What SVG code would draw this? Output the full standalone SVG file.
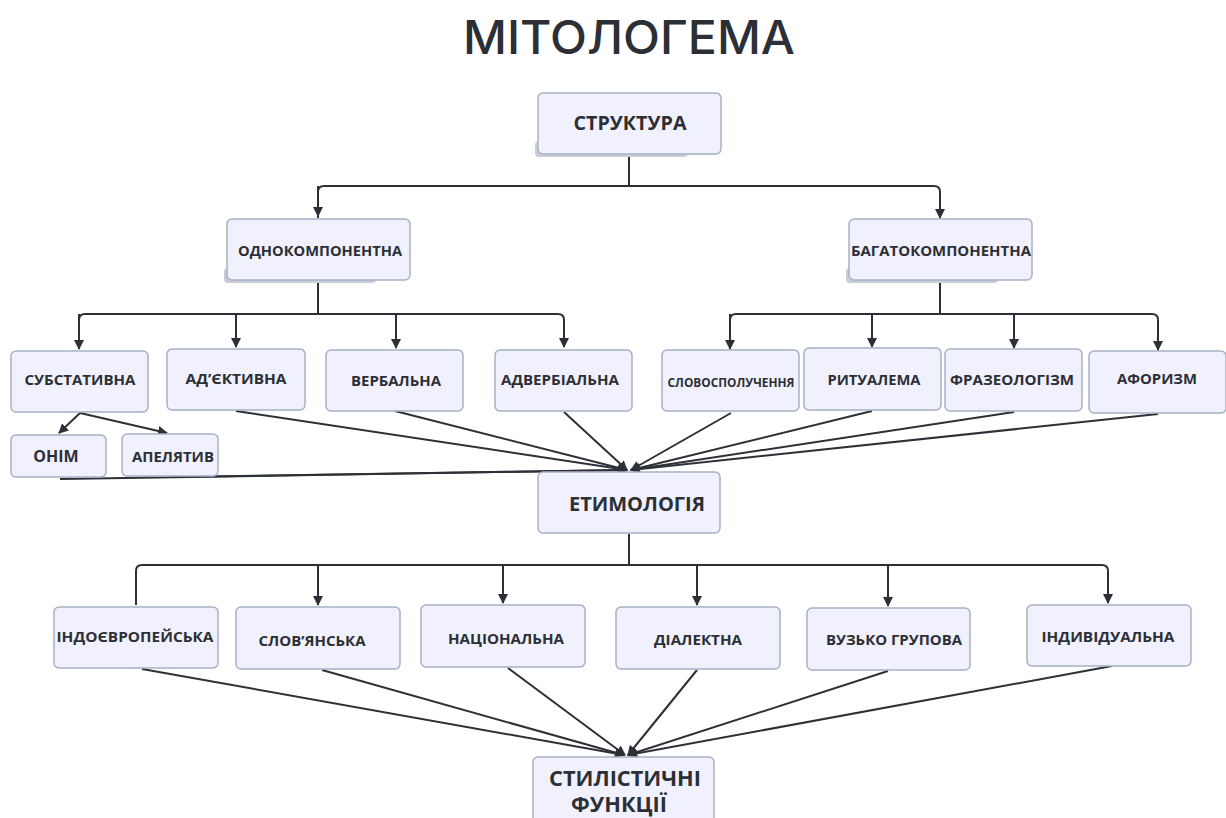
<svg xmlns="http://www.w3.org/2000/svg" width="1226" height="818" viewBox="0 0 1226 818">
<style>
.box{fill:#f1f1fd;stroke:#a7b1c6;stroke-width:1.5}
.sh{fill:#c9cdd9}
.t{font-family:"Open Sans","Noto Sans",sans-serif;font-weight:700;fill:#2c2f35;text-anchor:middle;dominant-baseline:central}
.c{fill:none;stroke:#2d3036;stroke-width:2}
</style>
<defs>
<marker id="ah" viewBox="0 0 10 10" refX="9" refY="5" markerWidth="5" markerHeight="5" orient="auto" markerUnits="strokeWidth">
<path d="M0,0 L10,5 L0,10 z" fill="#2d3036"/>
</marker>
</defs>
<rect width="1226" height="818" fill="#ffffff"/>
<text x="629" y="37" class="t" font-size="46" textLength="332" lengthAdjust="spacingAndGlyphs" style="font-family:Inter,'Open Sans',sans-serif;font-weight:500">МІТОЛОГЕМА</text>

<g id="connectors">
<path class="c" d="M629,155 V186 M318,218 V192 Q318,186 324,186 H934 Q940,186 940,192 V218" marker-end="url(#ah)"/>
<path class="c" d="M318,186 V216" marker-end="url(#ah)"/>
<path class="c" d="M318,281 V314 M79,349 V320 Q79,314 85,314 H558 Q564,314 564,320 V347" marker-end="url(#ah)"/>
<path class="c" d="M79,314 V349" marker-end="url(#ah)"/>
<path class="c" d="M236,314 V347" marker-end="url(#ah)"/>
<path class="c" d="M396,314 V348" marker-end="url(#ah)"/>
<path class="c" d="M940,281 V314 M730,349 V320 Q730,314 736,314 H1152 Q1158,314 1158,320 V350" marker-end="url(#ah)"/>
<path class="c" d="M730,314 V349" marker-end="url(#ah)"/>
<path class="c" d="M872,314 V347" marker-end="url(#ah)"/>
<path class="c" d="M1014,314 V348" marker-end="url(#ah)"/>
<path class="c" d="M80,413 L59,433" marker-end="url(#ah)"/>
<path class="c" d="M80,413 L167,433" marker-end="url(#ah)"/>
<path class="c" d="M60,479 L627,470" marker-end="url(#ah)"/>
<path class="c" d="M170,477 L627,470" marker-end="url(#ah)"/>
<path class="c" d="M236,411 L627,470" marker-end="url(#ah)"/>
<path class="c" d="M395,411 L627,470" marker-end="url(#ah)"/>
<path class="c" d="M564,412 L627,470" marker-end="url(#ah)"/>
<path class="c" d="M731,413 L631,470" marker-end="url(#ah)"/>
<path class="c" d="M872,411 L631,470" marker-end="url(#ah)"/>
<path class="c" d="M1014,412 L631,470" marker-end="url(#ah)"/>
<path class="c" d="M1158,414 L631,470" marker-end="url(#ah)"/>
<path class="c" d="M629,534 V565 M136,605 V571 Q136,565 142,565 H1102 Q1108,565 1108,571 V603" marker-end="url(#ah)"/>
<path class="c" d="M318,565 V605" marker-end="url(#ah)"/>
<path class="c" d="M503,565 V603" marker-end="url(#ah)"/>
<path class="c" d="M697,565 V605" marker-end="url(#ah)"/>
<path class="c" d="M888,565 V606" marker-end="url(#ah)"/>
<path class="c" d="M142,669 L624,755" marker-end="url(#ah)"/>
<path class="c" d="M322,670 L624,755" marker-end="url(#ah)"/>
<path class="c" d="M508,668 L625,755" marker-end="url(#ah)"/>
<path class="c" d="M697,670 L628,755" marker-end="url(#ah)"/>
<path class="c" d="M888,671 L628,755" marker-end="url(#ah)"/>
<path class="c" d="M1112,666 L628,755" marker-end="url(#ah)"/>
</g>

<g id="n-struktura"><rect class="sh" x="535" y="141" width="153" height="16" rx="4"/><rect class="box" x="538" y="93" width="183" height="61" rx="5"/><text class="t" x="630" y="123" font-size="19" textLength="113" lengthAdjust="spacingAndGlyphs">СТРУКТУРА</text></g>
<g id="n-odno"><rect class="sh" x="224" y="268" width="152" height="15" rx="4"/><rect class="box" x="227" y="219" width="183" height="61" rx="5"/><text class="t" x="320" y="250" font-size="15" textLength="164" lengthAdjust="spacingAndGlyphs">ОДНОКОМПОНЕНТНА</text></g>
<g id="n-bagato"><rect class="sh" x="846" y="268" width="152" height="15" rx="4"/><rect class="box" x="849" y="219" width="183" height="61" rx="5"/><text class="t" x="941" y="250" font-size="15" textLength="180" lengthAdjust="spacingAndGlyphs">БАГАТОКОМПОНЕНТНА</text></g>

<g id="n-subst"><rect class="box" x="11" y="351" width="137" height="61" rx="5"/><text class="t" x="80" y="379" font-size="15" textLength="111" lengthAdjust="spacingAndGlyphs">СУБСТАТИВНА</text></g>
<g id="n-adj"><rect class="box" x="167" y="349" width="138" height="61" rx="5"/><text class="t" x="236" y="378" font-size="15" textLength="101" lengthAdjust="spacingAndGlyphs">АД’ЄКТИВНА</text></g>
<g id="n-verb"><rect class="box" x="326" y="350" width="137" height="61" rx="5"/><text class="t" x="396" y="380" font-size="15" textLength="90" lengthAdjust="spacingAndGlyphs">ВЕРБАЛЬНА</text></g>
<g id="n-adverb"><rect class="box" x="495" y="350" width="137" height="61" rx="5"/><text class="t" x="560" y="379" font-size="15" textLength="118" lengthAdjust="spacingAndGlyphs">АДВЕРБІАЛЬНА</text></g>
<g id="n-slovo"><rect class="box" x="662" y="350" width="137" height="61" rx="5"/><text class="t" x="731" y="382" font-size="12" textLength="127" lengthAdjust="spacingAndGlyphs">СЛОВОСПОЛУЧЕННЯ</text></g>
<g id="n-ritual"><rect class="box" x="804" y="348" width="137" height="62" rx="5"/><text class="t" x="874" y="379" font-size="15" textLength="93" lengthAdjust="spacingAndGlyphs">РИТУАЛЕМА</text></g>
<g id="n-fraz"><rect class="box" x="945" y="349" width="137" height="62" rx="5"/><text class="t" x="1012" y="379" font-size="15" textLength="124" lengthAdjust="spacingAndGlyphs">ФРАЗЕОЛОГІЗМ</text></g>
<g id="n-afor"><rect class="box" x="1089" y="351" width="137" height="62" rx="5"/><text class="t" x="1157" y="378" font-size="15" textLength="80" lengthAdjust="spacingAndGlyphs">АФОРИЗМ</text></g>

<g id="n-onim"><rect class="box" x="11" y="435" width="95" height="42" rx="5"/><text class="t" x="56" y="456" font-size="16">ОНІМ</text></g>
<g id="n-apel"><rect class="box" x="122" y="434" width="96" height="42" rx="5"/><text class="t" x="173" y="456" font-size="15" textLength="82" lengthAdjust="spacingAndGlyphs">АПЕЛЯТИВ</text></g>

<g id="n-etym"><rect class="box" x="538" y="472" width="182" height="61" rx="5"/><text class="t" x="637" y="503" font-size="20" textLength="136" lengthAdjust="spacingAndGlyphs">ЕТИМОЛОГІЯ</text></g>

<g id="n-indo"><rect class="box" x="54" y="607" width="164" height="61" rx="5"/><text class="t" x="135" y="636" font-size="15" textLength="157" lengthAdjust="spacingAndGlyphs">ІНДОЄВРОПЕЙСЬКА</text></g>
<g id="n-slov"><rect class="box" x="236" y="607" width="164" height="62" rx="5"/><text class="t" x="312" y="640" font-size="15" textLength="107" lengthAdjust="spacingAndGlyphs">СЛОВ’ЯНСЬКА</text></g>
<g id="n-nats"><rect class="box" x="421" y="605" width="164" height="62" rx="5"/><text class="t" x="506" y="638" font-size="15" textLength="116" lengthAdjust="spacingAndGlyphs">НАЦІОНАЛЬНА</text></g>
<g id="n-dial"><rect class="box" x="616" y="607" width="164" height="62" rx="5"/><text class="t" x="698" y="639" font-size="15" textLength="88" lengthAdjust="spacingAndGlyphs">ДІАЛЕКТНА</text></g>
<g id="n-vuzko"><rect class="box" x="807" y="608" width="163" height="62" rx="5"/><text class="t" x="894" y="639" font-size="15" textLength="136" lengthAdjust="spacingAndGlyphs">ВУЗЬКО ГРУПОВА</text></g>
<g id="n-indiv"><rect class="box" x="1027" y="605" width="164" height="61" rx="5"/><text class="t" x="1108" y="636" font-size="15" textLength="133" lengthAdjust="spacingAndGlyphs">ІНДИВІДУАЛЬНА</text></g>

<g id="n-styl"><rect class="box" x="533" y="757" width="181" height="70" rx="5"/><text class="t" x="625" y="778" font-size="21" textLength="152" lengthAdjust="spacingAndGlyphs">СТИЛІСТИЧНІ</text><text class="t" x="619" y="804" font-size="21" textLength="96" lengthAdjust="spacingAndGlyphs">ФУНКЦІЇ</text></g>
</svg>
